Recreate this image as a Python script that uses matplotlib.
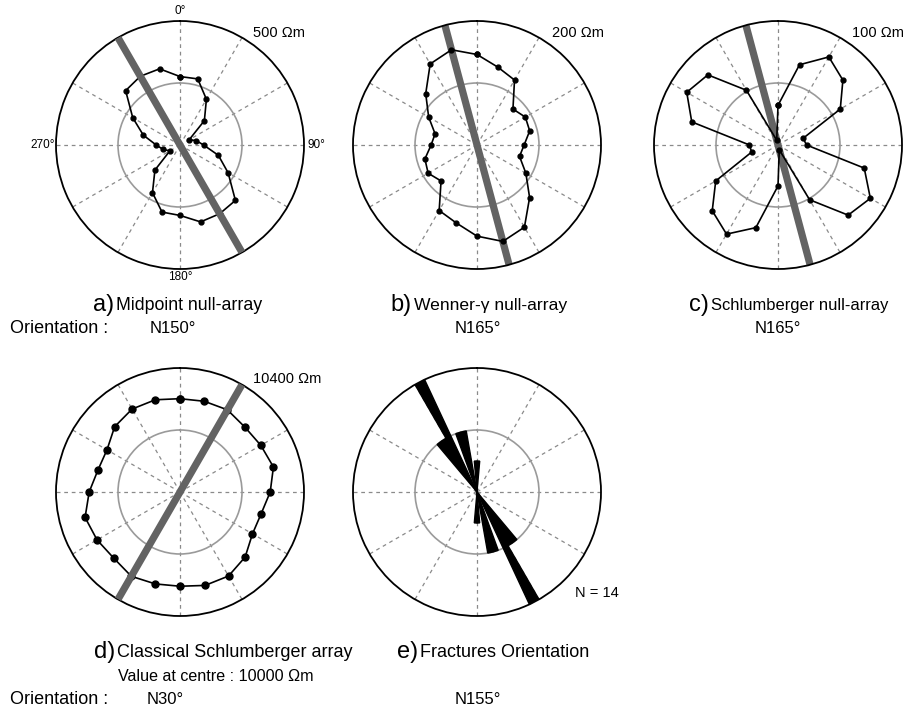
import numpy as np
import matplotlib
matplotlib.use("Agg")
import matplotlib.pyplot as plt

plt.rcParams['font.family'] = ['Liberation Sans', 'DejaVu Sans']

# azimuths of the measurements (degrees from north, clockwise)
azimuths = list(range(0, 360, 15))

# apparent resistivity (ohm.m) per azimuth
midpoint_null = [276, 276, 213, 139, 43, 68, 95, 160, 224, 316, 320, 321,
                 284, 280, 222, 143, 47, 70, 96, 153, 220, 310, 320, 318]
wenner_null = [146, 130, 121, 82, 90, 88, 76, 71, 91, 120, 153, 161,
               147, 130, 122, 82, 91, 87, 74, 70, 90, 117, 151, 159]
schlum_null = [32, 67, 82, 74, 58, 21, 23, 72, 86, 80, 51, 4,
               33, 69, 83, 75, 58, 22, 23, 72, 85, 80, 51, 4]
schlum_classic = [10301, 10303, 10306, 10296, 10301, 10312, 10291, 10271,
                  10270, 10297, 10313, 10312, 10304, 10307, 10314, 10302,
                  10309, 10317, 10293, 10274, 10272, 10298, 10309, 10308]

# fracture strike histogram, 5 degree bins (bin start, count)
frac_bins = [320, 325, 330, 340, 345, 355, 0]
frac_counts = [2, 2, 4, 2, 2, 1, 1]

W, H = 905, 711
R = 124
fig = plt.figure(figsize=(W / 100, H / 100), dpi=100)


def polar_at(cx, cy, rmin, rmax):
    ax = fig.add_axes([(cx - R) / W, (H - cy - R) / H, 2 * R / W, 2 * R / H],
                      projection='polar')
    ax.set_theta_zero_location('N')
    ax.set_theta_direction(-1)
    ax.set_ylim(rmin, rmax)
    ax.set_xticks(np.deg2rad(np.arange(0, 360, 30)))
    ax.set_xticklabels([])
    ax.set_yticks([(rmin + rmax) / 2])
    ax.set_yticklabels([])
    ax.tick_params(length=0)
    ax.xaxis.grid(True, color='#8a8a8a', ls=(0, (3, 3)), lw=0.9)
    ax.yaxis.grid(True, color='#9a9a9a', ls='-', lw=1.2)
    ax.spines['polar'].set_color('black')
    ax.spines['polar'].set_linewidth(1.3)
    return ax


def resistivity(ax, values, strike, rmin, rmax, ms=3.5, bar_on_top=False):
    th = np.deg2rad(azimuths + [azimuths[0]])
    r = values + [values[0]]
    ax.plot(th, r, color='black', lw=1.2, marker='o', ms=ms, zorder=3)
    s = np.deg2rad(strike)
    ax.plot([s, s, s + np.pi], [rmax, rmin, rmax], color='#636363', lw=5.2,
            solid_capstyle='butt', zorder=4 if bar_on_top else 2)


def label(x, y, s, **kw):
    fig.text(x / W, 1 - y / H, s, **kw)


def title(x, y, letter, s, size):
    # panel letter sits just left of the caption
    label(x - 2, y + 1, letter, fontsize=17, va='baseline', ha='right')
    label(x, y, s, fontsize=size, va='baseline', ha='left')


ax = polar_at(180, 145, 0, 500)
resistivity(ax, midpoint_null, 150, 0, 500, bar_on_top=True)
ax = polar_at(477, 145, 0, 200)
resistivity(ax, wenner_null, 165, 0, 200)
ax = polar_at(778, 145, 0, 100)
resistivity(ax, schlum_null, 165, 0, 100)
ax = polar_at(180, 492, 10000, 10400)
resistivity(ax, schlum_classic, 30, 10000, 10400, ms=5, bar_on_top=True)

ax = polar_at(477, 492, 0, 4)
edges = np.deg2rad(frac_bins + [b + 180 for b in frac_bins])
ax.bar(edges, frac_counts * 2, width=np.deg2rad(5), align='edge',
       color='black', edgecolor='black', lw=1.0, zorder=3)

# azimuth labels on the first diagram
deg = dict(fontsize=8.5, va='center')
label(180, 11, '0°', ha='center', **deg)
label(307, 145, '90°', ha='left', **deg)
label(180, 277, '180°', ha='center', **deg)
label(55, 145, '270°', ha='right', **deg)

scale = dict(fontsize=10.5, va='center', ha='left')
label(253, 33, '500 Ωm', **scale)
label(552, 33, '200 Ωm', **scale)
label(852, 33, '100 Ωm', **scale)
label(253, 379, '10400 Ωm', **scale)
label(575, 593, 'N = 14', **scale)

title(116, 310, 'a)', 'Midpoint null-array', 12.8)
title(414, 310, 'b)', 'Wenner-γ null-array', 12.6)
title(711, 310, 'c)', 'Schlumberger null-array', 11.9)
title(117, 657, 'd)', 'Classical Schlumberger array', 13)
title(420, 657, 'e)', 'Fractures Orientation', 13)
label(118, 681, 'Value at centre : 10000 Ωm', fontsize=11.6,
      va='baseline', ha='left')

txt = dict(va='baseline', ha='left')
label(10, 333, 'Orientation :', fontsize=13, **txt)
label(150, 333, 'N150°', fontsize=12, **txt)
label(455, 333, 'N165°', fontsize=12, **txt)
label(755, 333, 'N165°', fontsize=12, **txt)
label(10, 704, 'Orientation :', fontsize=13, **txt)
label(147, 704, 'N30°', fontsize=12, **txt)
label(455, 704, 'N155°', fontsize=12, **txt)

fig.savefig('out.png', dpi=100)
